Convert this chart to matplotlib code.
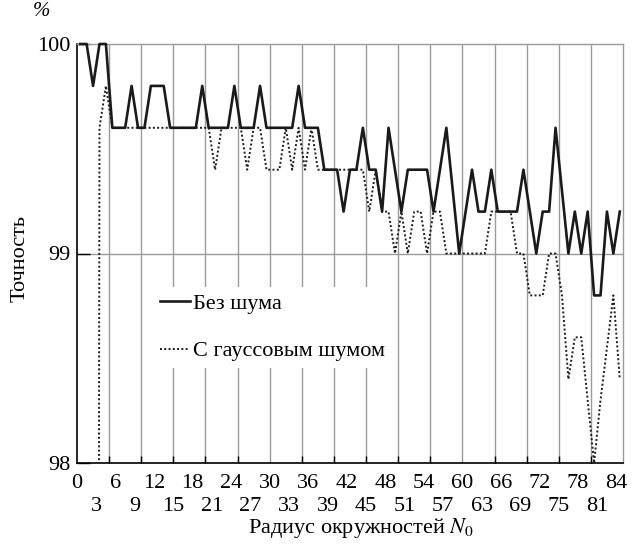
import numpy as np
import matplotlib
matplotlib.use("Agg")
import matplotlib.pyplot as plt
import matplotlib.transforms as mtransforms

plt.rcParams['font.family'] = ['Liberation Serif', 'DejaVu Serif']
plt.rcParams['mathtext.fontset'] = 'stix'

# номер точки (радиус N0), 0..84
radius = np.arange(85)

# Без шума
bez_shuma = [100, 100, 99.8, 100, 100, 99.6, 99.6, 99.6, 99.8, 99.6,
             99.6, 99.8, 99.8, 99.8, 99.6, 99.6, 99.6, 99.6, 99.6, 99.8,
             99.6, 99.6, 99.6, 99.6, 99.8, 99.6, 99.6, 99.6, 99.8, 99.6,
             99.6, 99.6, 99.6, 99.6, 99.8, 99.6, 99.6, 99.6, 99.4, 99.4,
             99.4, 99.2, 99.4, 99.4, 99.6, 99.4, 99.4, 99.2, 99.6, 99.4,
             99.2, 99.4, 99.4, 99.4, 99.4, 99.2, 99.4, 99.6, 99.3, 99.0,
             99.2, 99.4, 99.2, 99.2, 99.4, 99.2, 99.2, 99.2, 99.2, 99.4,
             99.2, 99.0, 99.2, 99.2, 99.6, 99.3, 99.0, 99.2, 99.0, 99.2,
             98.8, 98.8, 99.2, 99.0, 99.2]

# С гауссовым шумом (первые точки далеко ниже шкалы)
s_shumom = [80.0, 80.0, 80.0, 99.6, 99.8, 99.6, 99.6, 99.6, 99.6, 99.6,
            99.6, 99.6, 99.6, 99.6, 99.6, 99.6, 99.6, 99.6, 99.6, 99.6,
            99.6, 99.4, 99.6, 99.6, 99.6, 99.6, 99.4, 99.6, 99.6, 99.4,
            99.4, 99.4, 99.6, 99.4, 99.6, 99.4, 99.6, 99.4, 99.4, 99.4,
            99.4, 99.4, 99.4, 99.4, 99.4, 99.2, 99.4, 99.2, 99.2, 99.0,
            99.2, 99.0, 99.2, 99.2, 99.0, 99.2, 99.2, 99.0, 99.0, 99.0,
            99.0, 99.0, 99.0, 99.0, 99.2, 99.2, 99.2, 99.2, 99.0, 99.0,
            98.8, 98.8, 98.8, 99.0, 99.0, 98.8, 98.4, 98.6, 98.6, 98.3,
            98.0, 98.3, 98.55, 98.8, 98.4]

x_ticks = np.arange(0, 85, 3)
y_ticks = [98, 99, 100]

fs = 16

fig = plt.figure(figsize=(6.32, 5.49), dpi=100)
ax = fig.add_axes([77/632, 1-463/549, 546/632, 419/549])

# категории стоят посередине своих ячеек
xs = radius + 0.5
grid_c = '#9a9a9a'
for g in np.arange(5, 85, 5):
    ax.axvline(g, color=grid_c, lw=1.0, zorder=1)
ax.axhline(99, color=grid_c, lw=1.0, zorder=1)

ax.plot(xs, bez_shuma, color='#1a1a1a', lw=1.9, zorder=4, clip_on=False,
        label='Без шума')
ax.plot(xs, s_shumom, color='#1a1a1a', lw=1.4, ls=(0, (1, 1.2)), zorder=3,
        label='С гауссовым шумом')

ax.set_xlim(0, 85)
ax.set_ylim(98, 100)

# подписи оси X в два ряда
ax.set_xticks(x_ticks[::2])
ax.set_xticklabels([str(v) for v in x_ticks[::2]], fontsize=fs)
ax.tick_params(axis='x', which='major', length=0, pad=8)
trans = mtransforms.blended_transform_factory(ax.transData, ax.transAxes)
for v in x_ticks[1::2]:
    ax.text(v, -0.105, str(v), transform=trans, ha='center', va='center',
            fontsize=fs)
ax.set_xticks(np.arange(5, 85, 5), minor=True)
ax.tick_params(axis='x', which='minor', direction='in', length=5,
               width=1.0, color='black')

ax.set_yticks(y_ticks)
ax.set_yticklabels([str(v) for v in y_ticks], fontsize=fs)
ax.tick_params(axis='y', direction='in', length=9, width=1.0, pad=5)

for s in ['left', 'bottom']:
    ax.spines[s].set_color('black')
    ax.spines[s].set_linewidth(1.2)
for s in ['top', 'right']:
    ax.spines[s].set_color(grid_c)
    ax.spines[s].set_linewidth(1.0)

leg = ax.legend(loc='upper left', bbox_to_anchor=(0.14, 0.42),
                fontsize=fs, frameon=True, fancybox=False,
                framealpha=1, edgecolor='none', facecolor='white',
                handlelength=1.35, handletextpad=0.15, labelspacing=1.2,
                borderpad=0.3, borderaxespad=0)
leg.set_zorder(5)

fig.text(20/632, 1-258/549, 'Точность', rotation=90, ha='center',
         va='center', fontsize=fs)
fig.text(361/632, 1-528/549, 'Радиус окружностей $N_0$', ha='center',
         va='center', fontsize=fs)
fig.text(42/632, 1-11/549, '%', ha='center', va='center', fontsize=15,
         style='italic')

fig.savefig('out.png', dpi=100)
